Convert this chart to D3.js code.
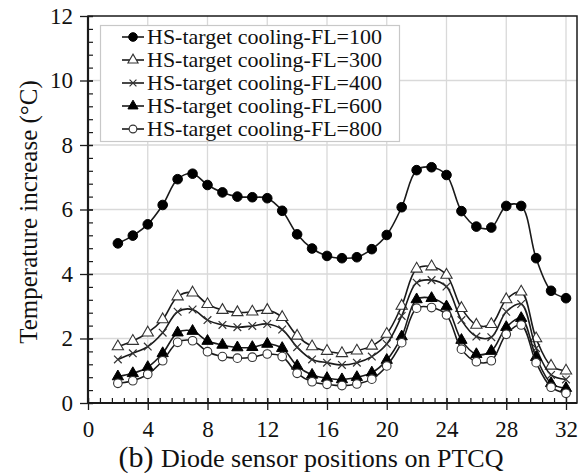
<!DOCTYPE html>
<html><head><meta charset="utf-8">
<script src="https://cdn.jsdelivr.net/npm/d3@7"></script>
<style>body{margin:0;background:#fff}svg{display:block}svg text{font-family:"Liberation Serif","Times New Roman",serif !important;fill:#111}</style>
</head><body><svg id="c" width="579" height="473"></svg>
<script>
const positions = [2,3,4,5,6,7,8,9,10,11,12,13,14,15,16,17,18,19,20,21,22,23,24,25,26,27,28,29,30,31,32];
const fl100 = [4.95,5.19,5.54,6.14,6.94,7.11,6.76,6.53,6.40,6.38,6.35,5.96,5.23,4.79,4.56,4.49,4.52,4.77,5.21,6.07,7.22,7.31,7.07,5.95,5.47,5.44,6.11,6.11,4.49,3.48,3.25];
const fl300 = [1.75,1.92,2.18,2.59,3.30,3.42,3.06,2.88,2.81,2.83,2.88,2.66,2.08,1.75,1.61,1.54,1.62,1.77,2.14,3.01,4.16,4.23,3.97,2.94,2.42,2.44,3.21,3.45,2.00,1.15,1.00];
const fl400 = [1.35,1.54,1.75,2.18,2.83,2.90,2.57,2.42,2.35,2.39,2.45,2.28,1.73,1.35,1.25,1.18,1.25,1.44,1.83,2.70,3.73,3.81,3.61,2.57,2.06,2.04,2.83,3.07,1.70,0.87,0.73];
const fl600 = [0.82,0.92,1.11,1.54,2.18,2.23,1.92,1.80,1.72,1.73,1.83,1.70,1.15,0.87,0.77,0.73,0.80,0.94,1.33,2.06,3.21,3.25,2.99,1.95,1.51,1.61,2.35,2.63,1.42,0.61,0.46];
const fl800 = [0.61,0.69,0.89,1.31,1.88,1.93,1.59,1.44,1.39,1.42,1.52,1.44,0.92,0.66,0.58,0.54,0.59,0.74,1.15,1.87,2.94,2.96,2.73,1.67,1.28,1.31,2.13,2.42,1.25,0.49,0.30];
const seriesNames = ["HS-target cooling-FL=100","HS-target cooling-FL=300","HS-target cooling-FL=400","HS-target cooling-FL=600","HS-target cooling-FL=800"];
const xTicks = [0,4,8,12,16,20,24,28,32];
const yTicks = [0,2,4,6,8,10,12];
const xTitlePrefix = "(b)";
const xTitle = "Diode sensor positions on PTCQ";
const yTitle = "Temperature increase (°C)";

const series = [
  {name: seriesNames[0], values: fl100, marker: "circleFilled"},
  {name: seriesNames[1], values: fl300, marker: "triangleOpen"},
  {name: seriesNames[2], values: fl400, marker: "cross"},
  {name: seriesNames[3], values: fl600, marker: "triangleFilled"},
  {name: seriesNames[4], values: fl800, marker: "circleOpen"}
];

const FONT = '"Liberation Serif", "Times New Roman", serif';
const svg = d3.select("#c");
const L = 88, R = 566, T = 16, B = 403, frameR = 577;
const x = d3.scaleLinear().domain([0,32]).range([L,R]);
const y = d3.scaleLinear().domain([0,12]).range([B,T]);
const ink = "#1a1a1a";

// gridlines
const g = svg.append("g");
g.selectAll(".vg").data(xTicks.filter(d=>d>0)).enter().append("line")
  .attr("x1",d=>x(d)).attr("x2",d=>x(d)).attr("y1",T).attr("y2",B)
  .attr("stroke","#d9d9d9").attr("stroke-width",1.3);
g.selectAll(".hg").data(yTicks.filter(d=>d>0 && d<12)).enter().append("line")
  .attr("x1",L).attr("x2",frameR).attr("y1",d=>y(d)).attr("y2",d=>y(d))
  .attr("stroke","#d9d9d9").attr("stroke-width",1.3);

// frame
svg.append("rect").attr("x",L).attr("y",T).attr("width",frameR-L).attr("height",B-T)
  .attr("fill","none").attr("stroke",ink).attr("stroke-width",1.5);

// axes via d3
const xMinor = d3.range(0,32.01,0.8);
const yMinor = d3.range(0,12.01,0.4);
const xAxisMinor = d3.axisTop(x).tickValues(xMinor).tickSize(5).tickFormat("");
svg.append("g").attr("transform",`translate(0,${B})`).call(xAxisMinor)
  .call(s=>s.select(".domain").remove()).selectAll("line").attr("stroke",ink).attr("stroke-width",1.2);
const xAxis = d3.axisBottom(x).tickValues(xTicks).tickSize(7).tickPadding(11).tickFormat(d3.format("d"));
const xa = svg.append("g").attr("transform",`translate(0,${B})`).call(xAxis).attr("font-family",FONT).attr("font-size",23);
xa.select(".domain").attr("stroke",ink).attr("stroke-width",2.2).attr("d",`M${L},0H${frameR}`);
xa.selectAll(".tick line").attr("stroke",ink).attr("stroke-width",1.3).attr("y1",-5);
xa.selectAll("text").attr("font-family",FONT).attr("font-size",23).attr("fill","#111");

const yAxisMinor = d3.axisRight(y).tickValues(yMinor).tickSize(5).tickFormat("");
svg.append("g").attr("transform",`translate(${L},0)`).call(yAxisMinor)
  .call(s=>s.select(".domain").remove()).selectAll("line").attr("stroke",ink).attr("stroke-width",1.2);
const yAxis = d3.axisLeft(y).tickValues(yTicks).tickSize(8).tickPadding(7).tickFormat(d3.format("d"));
const ya = svg.append("g").attr("transform",`translate(${L},0)`).call(yAxis).attr("font-family",FONT).attr("font-size",23);
ya.select(".domain").attr("stroke",ink).attr("stroke-width",2.2).attr("d",`M0,${T}V${B}`);
ya.selectAll(".tick line").attr("stroke",ink).attr("stroke-width",1.3).attr("x1",5);
ya.selectAll("text").attr("font-family",FONT).attr("font-size",23).attr("fill","#111");

// titles
const xt = svg.append("text").attr("x",311).attr("y",467).attr("text-anchor","middle").attr("font-family",FONT);
xt.append("tspan").attr("font-size",30).text(xTitlePrefix + " ");
xt.append("tspan").attr("font-size",26).text(xTitle);
svg.append("text").attr("transform","translate(37,212) rotate(-90)").attr("text-anchor","middle")
  .attr("font-family",FONT).attr("font-size",25).text(yTitle);

// markers
function drawMarker(sel, type, cx, cy, s) {
  s = s || 1;
  if (type === "circleFilled") sel.append("circle").attr("cx",cx).attr("cy",cy).attr("r",4.8*s).attr("fill","#000").attr("stroke","#000");
  else if (type === "circleOpen") sel.append("circle").attr("cx",cx).attr("cy",cy).attr("r",4.3*s).attr("fill","#fff").attr("stroke","#333").attr("stroke-width",1.1);
  else if (type === "triangleOpen") sel.append("path").attr("d",d3.symbol(d3.symbolTriangle,55*s*s)()).attr("transform",`translate(${cx},${cy})`).attr("fill","#fff").attr("stroke","#333").attr("stroke-width",1.1);
  else if (type === "triangleFilled") sel.append("path").attr("d",d3.symbol(d3.symbolTriangle,55*s*s)()).attr("transform",`translate(${cx},${cy})`).attr("fill","#000").attr("stroke","#000").attr("stroke-width",1);
  else if (type === "cross") sel.append("path").attr("d",d3.symbol(d3.symbolX,40*s*s)()).attr("transform",`translate(${cx},${cy})`).attr("fill","none").attr("stroke","#333").attr("stroke-width",1.2);
}

const line = d3.line().x(d=>x(d[0])).y(d=>y(d[1])).curve(d3.curveCatmullRom.alpha(0.5));
series.forEach(sr => {
  const pts = positions.map((p,i)=>[p, sr.values[i]]);
  const gs = svg.append("g");
  gs.append("path").attr("d",line(pts)).attr("fill","none").attr("stroke",ink).attr("stroke-width",1.6);
  pts.forEach(p => drawMarker(gs, sr.marker, x(p[0]), y(p[1])));
});

// legend
const lg = svg.append("g");
lg.append("rect").attr("x",100.5).attr("y",25.5).attr("width",299).attr("height",116)
  .attr("fill","#fff").attr("stroke","#c8c8c8").attr("stroke-width",1.2);
series.forEach((sr,i) => {
  const cy = 37 + i*23;
  lg.append("line").attr("x1",122).attr("x2",144).attr("y1",cy).attr("y2",cy).attr("stroke",ink).attr("stroke-width",1.6);
  drawMarker(lg, sr.marker, 133, cy, 0.9);
  lg.append("text").attr("x",147).attr("y",cy+7).attr("font-family",FONT).attr("font-size",22).text(sr.name);
});
</script></body></html>
